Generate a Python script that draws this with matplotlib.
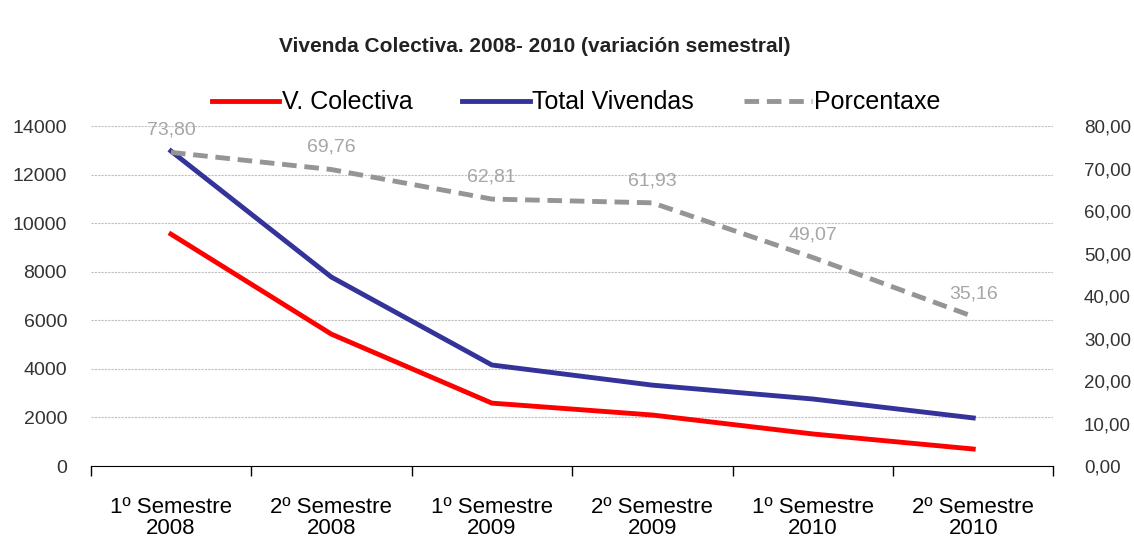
import matplotlib.pyplot as plt
import numpy as np

plt.rcParams['font.family'] = ['Liberation Sans', 'DejaVu Sans']

# categories (semesters)
categories = ['1º Semestre\n2008', '2º Semestre\n2008', '1º Semestre\n2009',
              '2º Semestre\n2009', '1º Semestre\n2010', '2º Semestre\n2010']

# values
v_colectiva = [9550, 5430, 2590, 2100, 1320, 700]
total_vivendas = [12970, 7780, 4160, 3330, 2760, 1980]
porcentaxe = [73.80, 69.76, 62.81, 61.93, 49.07, 35.16]

x = np.arange(len(categories))

fig = plt.figure(figsize=(11.34, 5.39), dpi=100)
ax = fig.add_axes([0.080, 0.1354, 0.849, 0.6308])
ax2 = ax.twinx()

l1, = ax.plot(x, v_colectiva, color='#ff0000', lw=3.5, label='V. Colectiva', zorder=3)
l2, = ax.plot(x, total_vivendas, color='#33339a', lw=3.5, label='Total Vivendas', zorder=3)
l3, = ax2.plot(x, porcentaxe, color='#959595', lw=3.5, ls=(0, (3, 1.6)), label='Porcentaxe')

for xi, p in zip(x, porcentaxe):
    ax2.annotate(f'{p:.2f}'.replace('.', ','), (xi, p), xytext=(0, 16),
                 textcoords='offset points', ha='center', va='center',
                 fontsize=14, color='#a6a6a6')

ax.set_xlim(-0.5, len(categories) - 0.5)
ax.set_ylim(0, 14000)
ax.set_yticks(np.arange(0, 14001, 2000))
ax2.set_ylim(0, 80)
ax2.set_yticks(np.arange(0, 81, 10))
ax2.set_yticklabels([f'{v:.2f}'.replace('.', ',') for v in np.arange(0, 81, 10)])

ax.set_xticks(x)
ax.set_xticklabels(categories, fontsize=16, linespacing=1.0)
ax.set_xticks(np.arange(-0.5, len(categories), 1), minor=True)
ax.tick_params(axis='x', which='major', length=0, pad=22)
ax.tick_params(axis='x', which='minor', length=7, width=1, color='black')
ax.tick_params(axis='y', length=0, labelsize=14, labelcolor='#333333', pad=17)
ax2.tick_params(axis='y', length=0, labelsize=13.5, labelcolor='#333333', pad=22)

ax.grid(axis='y', ls=(0, (2, 1)), color='#c0c0c0', lw=0.8)
ax.set_axisbelow(True)
for a in (ax, ax2):
    for s in ('top', 'left', 'right'):
        a.spines[s].set_visible(False)
    a.spines['bottom'].set_color('black')
ax2.spines['bottom'].set_visible(False)

fig.text(0.472, 0.913, 'Vivenda Colectiva. 2008- 2010 (variación semestral)',
         ha='center', va='center', fontsize=15, fontweight='bold', color='#222222')
fig.legend(handles=[l1, l2, l3], loc='center', bbox_to_anchor=(0.508, 0.81), ncol=3,
           frameon=False, fontsize=18, handlelength=2.7, columnspacing=2.0, handletextpad=0.1)

plt.savefig('out.png')
